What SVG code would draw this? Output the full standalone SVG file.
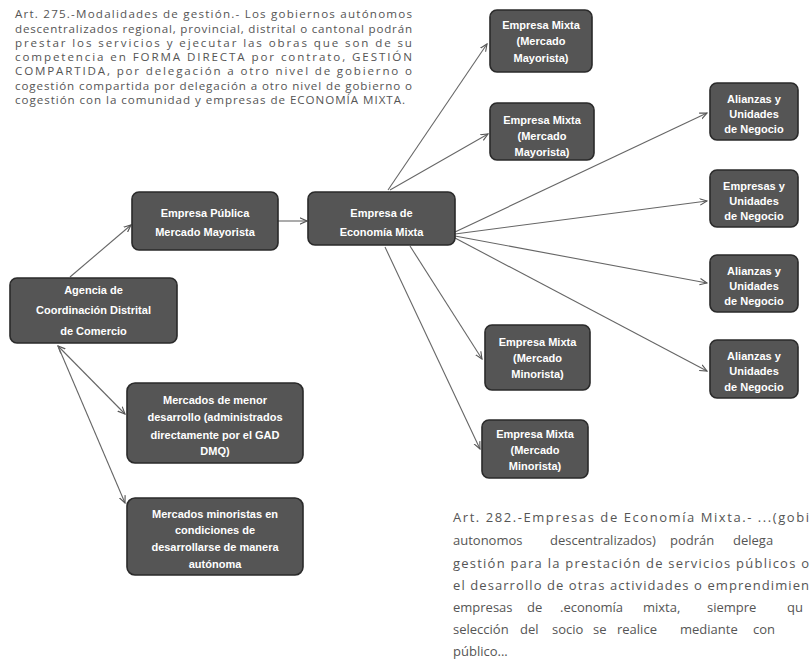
<svg xmlns="http://www.w3.org/2000/svg" width="809" height="661" viewBox="0 0 809 661">
<defs>
<style>
.box{fill:#555;stroke:#2a2a2a;stroke-width:1.6}
.bt{fill:#fff;font-family:"Liberation Sans",Arial,sans-serif;font-size:11px;font-weight:bold;text-anchor:middle}
.para{fill:#555;font-family:"Open Sans","Noto Sans",sans-serif;font-size:11.6px}
.para2{fill:#555;font-family:"Open Sans","Noto Sans",sans-serif;font-size:13px}
.con{stroke:#666;stroke-width:1.1;fill:none;marker-end:url(#ah)}
</style>
<marker id="ah" viewBox="0 0 10 10" refX="9" refY="5" markerWidth="8" markerHeight="8" orient="auto-start-reverse" markerUnits="userSpaceOnUse">
<path d="M0,1 L9,5 L0,9" fill="none" stroke="#555" stroke-width="1.4"/>
</marker>
</defs>
<rect width="809" height="661" fill="#fff"/>

<g id="text-art275" class="para">
<text x="15" y="18" textLength="397" lengthAdjust="spacing">Art. 275.-Modalidades de gestión.- Los gobiernos autónomos</text>
<text x="15" y="32.5" textLength="397" lengthAdjust="spacing">descentralizados regional, provincial, distrital o cantonal podrán</text>
<text x="15" y="47" textLength="397" lengthAdjust="spacing">prestar los servicios y ejecutar las obras que son de su</text>
<text x="15" y="61" textLength="397" lengthAdjust="spacing">competencia en FORMA DIRECTA por contrato, GESTIÓN</text>
<text x="15" y="75" textLength="397" lengthAdjust="spacing">COMPARTIDA, por delegación a otro nivel de gobierno o</text>
<text x="15" y="89.5" textLength="397" lengthAdjust="spacing">cogestión compartida por delegación a otro nivel de gobierno o</text>
<text x="15" y="104" textLength="390" lengthAdjust="spacing">cogestión con la comunidad y empresas de ECONOMÍA MIXTA.</text>
</g>

<g id="text-art282" class="para2">
<text x="453" y="522" textLength="356" lengthAdjust="spacing">Art. 282.-Empresas de Economía Mixta.- ...(gobi</text>
<text y="545"><tspan x="453">autonomos</tspan><tspan x="550">descentralizados)</tspan><tspan x="670">podrán</tspan><tspan x="733">delega</tspan></text>
<text x="453" y="568" textLength="356" lengthAdjust="spacing">gestión para la prestación de servicios públicos o</text>
<text x="453" y="590" textLength="356" lengthAdjust="spacing">el desarrollo de otras actividades o emprendimien</text>
<text y="612"><tspan x="453">empresas</tspan><tspan x="527">de</tspan><tspan x="560">.economía</tspan><tspan x="643">mixta,</tspan><tspan x="707">siempre</tspan><tspan x="787">qu</tspan></text>
<text y="634"><tspan x="453">selección</tspan><tspan x="520">del</tspan><tspan x="552">socio</tspan><tspan x="593">se</tspan><tspan x="617">realice</tspan><tspan x="680">mediante</tspan><tspan x="753">con</tspan></text>
<text x="453" y="656">público...</text>
</g>

<g id="connectors">
<line class="con" x1="70" y1="277" x2="131" y2="225"/>
<line class="con" x1="278" y1="221" x2="307" y2="221"/>
<line class="con" x1="388" y1="190" x2="487" y2="44"/>
<line class="con" x1="390" y1="190" x2="488" y2="134"/>
<line class="con" x1="455" y1="232" x2="707" y2="113"/>
<line class="con" x1="455" y1="234" x2="707" y2="201"/>
<line class="con" x1="455" y1="236" x2="707" y2="283"/>
<line class="con" x1="455" y1="238" x2="707" y2="371"/>
<line class="con" x1="410" y1="246" x2="482" y2="359"/>
<line class="con" x1="385" y1="247" x2="480" y2="449"/>
<line class="con" x1="58" y1="346" x2="125" y2="414" style="marker-start:url(#ah)"/>
<line class="con" x1="58" y1="346" x2="125" y2="503"/>
</g>

<g id="n-agencia">
<rect class="box" x="10" y="278" width="167" height="65" rx="7"/>
<text class="bt" x="93.5" y="294">Agencia de</text>
<text class="bt" x="93.5" y="314">Coordinación Distrital</text>
<text class="bt" x="93.5" y="335">de Comercio</text>
</g>

<g id="n-publica">
<rect class="box" x="132" y="192" width="146" height="58" rx="7"/>
<text class="bt" x="205" y="217">Empresa Pública</text>
<text class="bt" x="205" y="236">Mercado Mayorista</text>
</g>

<g id="n-mixta">
<rect class="box" x="308" y="192" width="147" height="53" rx="7"/>
<text class="bt" x="381.5" y="217">Empresa de</text>
<text class="bt" x="381.5" y="236">Economía Mixta</text>
</g>

<g id="n-top1">
<rect class="box" x="490" y="10" width="102" height="62" rx="7"/>
<text class="bt" x="541" y="29">Empresa Mixta</text>
<text class="bt" x="541" y="45">(Mercado</text>
<text class="bt" x="541" y="62">Mayorista)</text>
</g>

<g id="n-top2">
<rect class="box" x="490" y="103" width="104" height="57" rx="7"/>
<text class="bt" x="542" y="124">Empresa Mixta</text>
<text class="bt" x="542" y="140">(Mercado</text>
<text class="bt" x="542" y="156">Mayorista)</text>
</g>

<g id="n-r1">
<rect class="box" x="710" y="83" width="88" height="57" rx="7"/>
<text class="bt" x="754" y="103">Alianzas y</text>
<text class="bt" x="754" y="118">Unidades</text>
<text class="bt" x="754" y="133">de Negocio</text>
</g>

<g id="n-r2">
<rect class="box" x="710" y="170" width="88" height="57" rx="7"/>
<text class="bt" x="754" y="190">Empresas y</text>
<text class="bt" x="754" y="205">Unidades</text>
<text class="bt" x="754" y="220">de Negocio</text>
</g>

<g id="n-r3">
<rect class="box" x="710" y="255" width="88" height="57" rx="7"/>
<text class="bt" x="754" y="275">Alianzas y</text>
<text class="bt" x="754" y="290">Unidades</text>
<text class="bt" x="754" y="305">de Negocio</text>
</g>

<g id="n-r4">
<rect class="box" x="710" y="340" width="88" height="58" rx="7"/>
<text class="bt" x="754" y="360">Alianzas y</text>
<text class="bt" x="754" y="375">Unidades</text>
<text class="bt" x="754" y="391">de Negocio</text>
</g>

<g id="n-b1">
<rect class="box" x="485" y="325" width="105" height="65" rx="7"/>
<text class="bt" x="537.5" y="346">Empresa Mixta</text>
<text class="bt" x="537.5" y="362">(Mercado</text>
<text class="bt" x="537.5" y="378">Minorista)</text>
</g>

<g id="n-b2">
<rect class="box" x="482" y="420" width="106" height="58" rx="7"/>
<text class="bt" x="535" y="438">Empresa Mixta</text>
<text class="bt" x="535" y="454">(Mercado</text>
<text class="bt" x="535" y="470">Minorista)</text>
</g>

<g id="n-menor">
<rect class="box" x="127" y="383" width="176" height="80" rx="8"/>
<text class="bt" x="215" y="404">Mercados de menor</text>
<text class="bt" x="215" y="421">desarrollo (administrados</text>
<text class="bt" x="215" y="439">directamente por el GAD</text>
<text class="bt" x="215" y="455">DMQ)</text>
</g>

<g id="n-minoristas">
<rect class="box" x="127" y="498" width="176" height="77" rx="8"/>
<text class="bt" x="215" y="518">Mercados minoristas en</text>
<text class="bt" x="215" y="534">condiciones de</text>
<text class="bt" x="215" y="551">desarrollarse de manera</text>
<text class="bt" x="215" y="568">autónoma</text>
</g>
</svg>
